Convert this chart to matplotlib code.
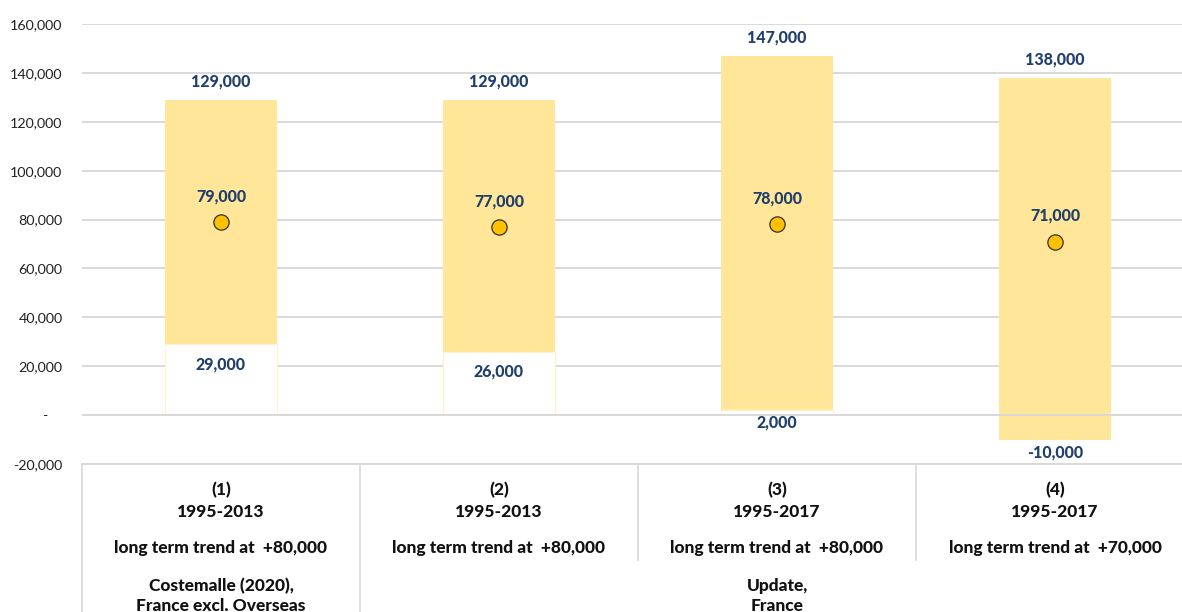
import matplotlib

matplotlib.use("Agg")
import matplotlib.pyplot as plt
import numpy as np

# data
cases = ["(1)", "(2)", "(3)", "(4)"]
periods = ["1995-2013", "1995-2013", "1995-2017", "1995-2017"]
trends = ["long term trend at  +80,000", "long term trend at  +80,000",
          "long term trend at  +80,000", "long term trend at  +70,000"]
sources = ["Costemalle (2020),\nFrance excl. Overseas", "Update,\nFrance"]
source_spans = [(0, 0), (1, 3)]
low = np.array([29000, 26000, 2000, -10000])
mid = np.array([79000, 77000, 78000, 71000])
high = np.array([129000, 129000, 147000, 138000])
yticks = np.arange(-20000, 160001, 20000)

BAR = "#FFE699"
DOT = "#FFC000"
LBL = "#203F6E"
GRID = "#D9D9D9"

plt.rcParams["font.family"] = ["Lato", "DejaVu Sans"]

fig = plt.figure(figsize=(11.82, 6.12), dpi=100)
ax = fig.add_axes([82 / 1182, 1 - 464 / 612, 1112 / 1182, 440 / 612])

x = np.arange(len(cases))
ax.set_xlim(-0.5, len(cases) - 0.5)
ax.set_ylim(-20000, 160000)

ax.set_yticks(yticks)
ax.set_yticklabels([f"{v:,.0f}" if v != 0 else "-    " for v in yticks],
                   fontsize=10.3, color="#222222")
ax.tick_params(axis="y", length=0, pad=14)
ax.set_xticks([])
for s in ax.spines.values():
    s.set_visible(False)
ax.grid(axis="y", color=GRID, linewidth=1.4, zorder=0)
ax.set_axisbelow(True)

# invisible base from 0 to the low end, then the low-high range
ax.bar(x, np.clip(low, 0, None), width=0.4, color="white",
       edgecolor="#FFF2CC", linewidth=0.8, zorder=2)
ax.bar(x, high - low, bottom=low, width=0.4, color=BAR, zorder=2)
ax.axhline(0, color=GRID, linewidth=1.4, zorder=3)
ax.plot(x, mid, "o", ms=11, mfc=DOT, mec="#333333", mew=0.9, zorder=4)

lkw = dict(ha="center", va="center", color=LBL, fontsize=11.5,
           fontweight="black", textcoords="offset points")
for i in x:
    ax.annotate(f"{high[i]:,}", (i, high[i]), xytext=(0, 13), **lkw)
    ax.annotate(f"{mid[i]:,}", (i, mid[i]), xytext=(0, 18.5), **lkw)
    off = -14.5 if low[i] > 10000 else -9
    ax.annotate(f"{low[i]:,}", (i, low[i]), xytext=(0, off), **lkw)

# category table under the plot
tr = ax.get_xaxis_transform()
py = lambda p: (464 - p) / 440
ax.plot([-0.5, 3.5], [0, 0], color=GRID, lw=1.4, transform=tr, clip_on=False)
for b in [-0.5, 0.5]:
    ax.plot([b, b], [0, py(640)], color=GRID, lw=1.2, transform=tr, clip_on=False)
for b in [1.5, 2.5]:
    ax.plot([b, b], [0, py(560)], color=GRID, lw=1.2, transform=tr, clip_on=False)

tkw = dict(ha="center", va="center", fontsize=12.5, fontweight="black",
           color="#111111", transform=tr, clip_on=False)
for i in x:
    ax.text(i, py(490), cases[i], **tkw)
    ax.text(i, py(512), periods[i], **tkw)
    ax.text(i, py(548), trends[i], **tkw)
for (a, b), s in zip(source_spans, sources):
    ax.text((a + b) / 2, py(596), s, linespacing=1.3, **tkw)

fig.savefig("out.png", dpi=100)
